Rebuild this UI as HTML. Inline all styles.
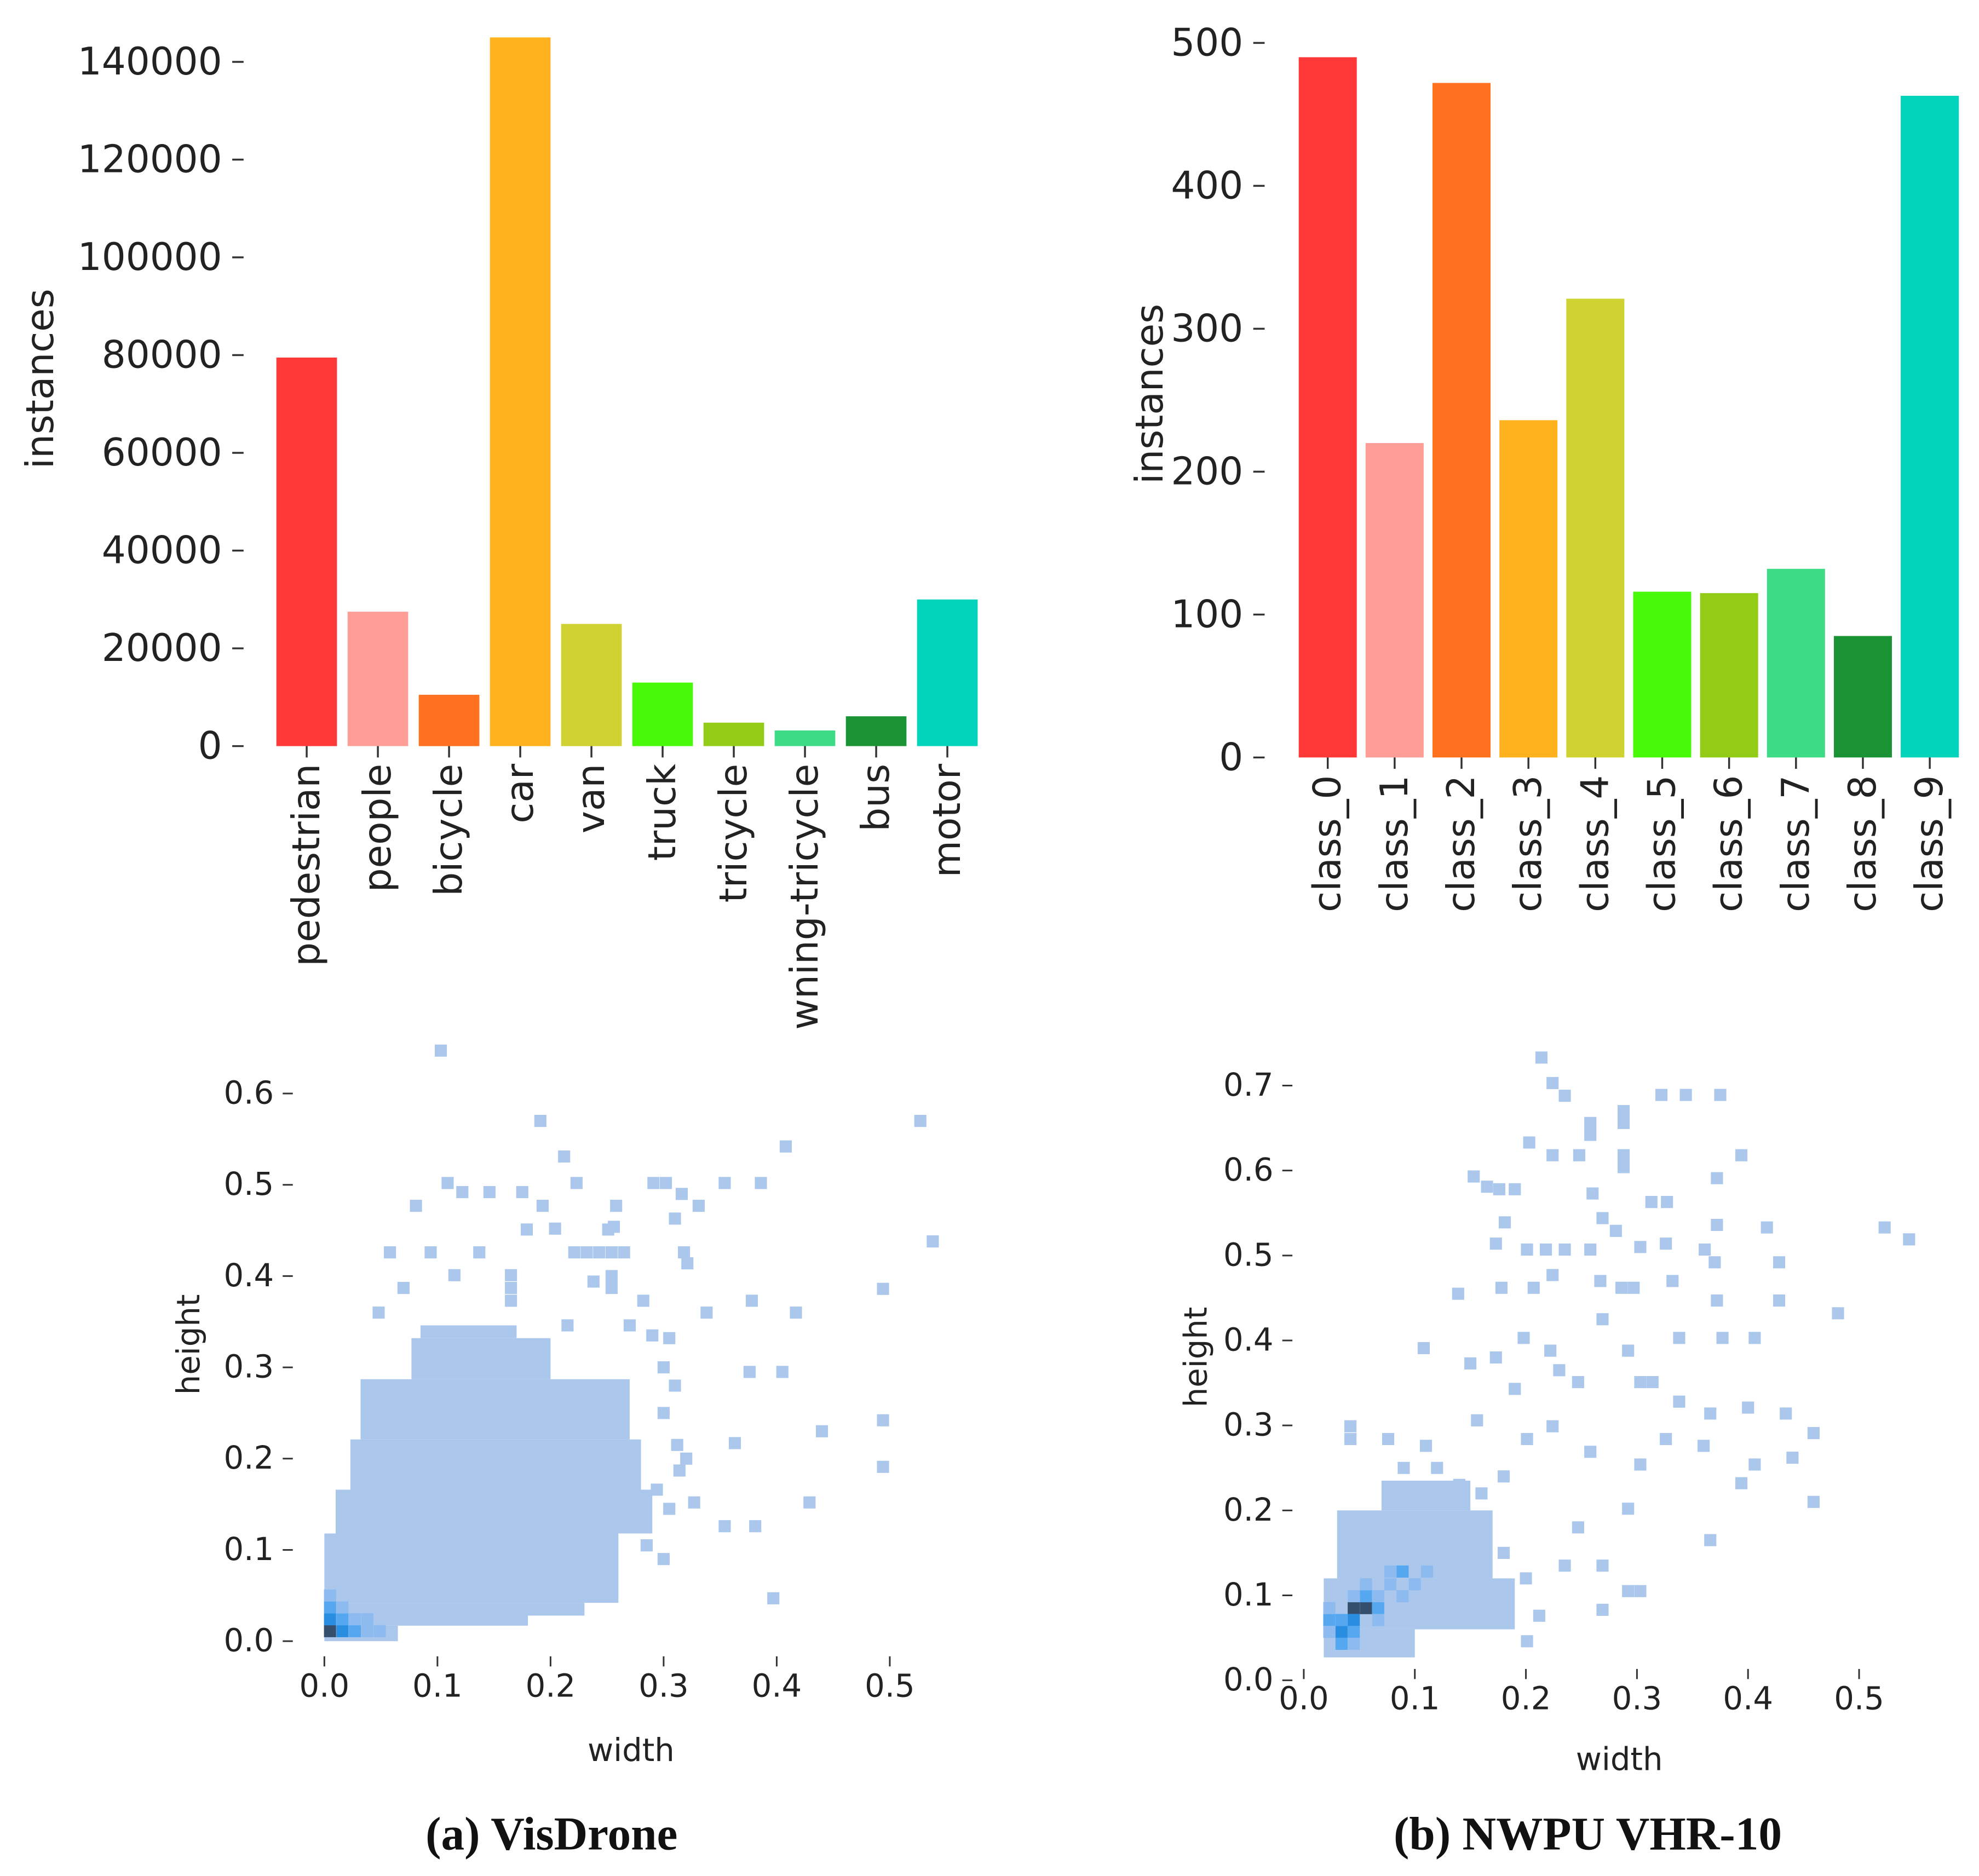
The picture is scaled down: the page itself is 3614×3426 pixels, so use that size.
<!DOCTYPE html>
<html><head><meta charset="utf-8"><style>
html,body{margin:0;padding:0;background:#fff;}
svg{display:block;}
text{font-family:"DejaVu Sans","Liberation Sans",sans-serif;fill:#222;}
</style></head><body>
<svg id="fig" xmlns="http://www.w3.org/2000/svg" width="3614" height="3426" viewBox="0 0 1568 1486" preserveAspectRatio="none">
<g id="g1"></g>
<g id="g2"></g>
<g id="g3"></g>
<g id="g4"></g>
<text x="437" y="1465" text-anchor="middle" style="font-family:'Liberation Serif',serif;font-weight:bold;font-size:37px;fill:#111">(a) VisDrone</text>
<text x="1258" y="1465" text-anchor="middle" style="font-family:'Liberation Serif',serif;font-weight:bold;font-size:37px;fill:#111">(b) NWPU VHR-10</text>
</svg>
<script>
// ---- Data ----
const visCats = ["pedestrian","people","bicycle","car","van","truck","tricycle","awning-tricycle","bus","motor"];
const visVals = [79500,27500,10500,145000,25000,13000,4800,3200,6100,30000];
const visTicks = [0,20000,40000,60000,80000,100000,120000,140000];
const nwpuCats = ["class_0","class_1","class_2","class_3","class_4","class_5","class_6","class_7","class_8","class_9"];
const nwpuVals = [490,220,472,236,321,116,115,132,85,463];
const nwpuTicks = [0,100,200,300,400,500];
const barColors = ["#ff3838","#ff9d97","#ff701f","#ffb21d","#cfd231","#48f90a","#92cc17","#3ddb86","#1a9334","#00d4bb"];

const visXTicks = [0,0.1,0.2,0.3,0.4,0.5];
const visYTicks = [0,0.1,0.2,0.3,0.4,0.5,0.6];
// blob rows: [h0,h1,w0,w1]
const visBlob = [[0,0.017,0,0.065],[0.017,0.028,0,0.18],[0.028,0.042,0,0.23],[0.042,0.118,0,0.26],[0.118,0.166,0.01,0.29],[0.166,0.221,0.023,0.28],[0.221,0.287,0.032,0.27],[0.287,0.332,0.077,0.20],[0.332,0.346,0.085,0.17]];
const visDense = [[0.005,0.011,4],[0.005,0.024,3],[0.016,0.011,3],[0.016,0.024,2],[0.027,0.011,2],[0.005,0.037,2],[0.027,0.024,1],[0.038,0.011,1],[0.016,0.037,1],[0.038,0.024,1],[0.005,0.050,1],[0.049,0.011,1]];
const visScatter = [[.103,.647],[.191,.570],[.527,.570],[.408,.542],[.212,.531],[.109,.502],[.122,.492],[.146,.492],[.175,.492],[.223,.502],[.291,.502],[.302,.502],[.354,.502],[.386,.502],[.081,.477],[.193,.477],[.258,.477],[.316,.490],[.331,.477],[.310,.463],[.256,.454],[.179,.451],[.204,.452],[.251,.451],[.538,.438],[.058,.426],[.094,.426],[.137,.426],[.221,.426],[.232,.426],[.243,.426],[.254,.426],[.265,.426],[.318,.426],[.321,.414],[.494,.386],[.378,.373],[.417,.360],[.338,.360],[.405,.295],[.376,.295],[.363,.217],[.440,.230],[.494,.242],[.494,.191],[.429,.152],[.381,.126],[.354,.126],[.397,.047],[.327,.152],[.305,.145],[.314,.187],[.294,.166],[.048,.360],[.070,.387],[.115,.401],[.165,.401],[.238,.394],[.282,.373],[.305,.332],[.215,.346],[.165,.387],[.165,.373],[.254,.400],[.254,.387],[.270,.346],[.290,.335],[.300,.300],[.310,.280],[.300,.250],[.312,.215],[.320,.200],[.285,.105],[.300,.090]];

const nwXTicks = [0,0.1,0.2,0.3,0.4,0.5];
const nwYTicks = [0,0.1,0.2,0.3,0.4,0.5,0.6,0.7];
const nwBlob = [[0.027,0.06,0.018,0.10],[0.06,0.12,0.018,0.19],[0.12,0.20,0.03,0.17],[0.20,0.235,0.07,0.15]];
const nwDense = [[0.045,0.085,4],[0.056,0.085,4],[0.045,0.071,3],[0.034,0.057,3],[0.045,0.057,2],[0.034,0.071,2],[0.056,0.099,2],[0.067,0.085,2],[0.023,0.071,2],[0.034,0.043,2],[0.089,0.128,2],[0.078,0.113,1],[0.067,0.071,1],[0.056,0.113,1],[0.023,0.057,1],[0.023,0.085,1],[0.045,0.043,1],[0.067,0.099,1],[0.100,0.113,1],[0.078,0.128,1],[0.111,0.128,1],[0.089,0.099,1],[0.045,0.099,1]];
const nwScatter = [[.214,.733],[.224,.703],[.235,.688],[.322,.689],[.344,.689],[.375,.689],[.258,.656],[.258,.642],[.288,.670],[.288,.656],[.203,.633],[.224,.618],[.248,.618],[.288,.618],[.288,.604],[.153,.593],[.165,.581],[.176,.578],[.190,.578],[.372,.591],[.394,.618],[.260,.573],[.313,.563],[.327,.563],[.181,.539],[.269,.544],[.281,.529],[.372,.536],[.417,.533],[.173,.514],[.201,.507],[.218,.507],[.235,.507],[.258,.507],[.303,.510],[.326,.514],[.361,.507],[.370,.492],[.428,.492],[.523,.533],[.545,.519],[.139,.455],[.178,.462],[.207,.462],[.224,.477],[.267,.470],[.286,.462],[.297,.462],[.332,.470],[.372,.447],[.428,.447],[.481,.432],[.198,.403],[.222,.388],[.269,.425],[.292,.388],[.338,.403],[.377,.403],[.406,.403],[.108,.391],[.150,.373],[.173,.380],[.190,.343],[.230,.365],[.247,.351],[.303,.351],[.314,.351],[.338,.328],[.366,.314],[.400,.321],[.434,.314],[.459,.291],[.042,.299],[.042,.284],[.076,.284],[.110,.276],[.156,.306],[.201,.284],[.224,.299],[.258,.269],[.303,.254],[.326,.284],[.360,.276],[.406,.254],[.440,.262],[.459,.210],[.292,.202],[.394,.232],[.366,.165],[.247,.180],[.235,.135],[.269,.135],[.292,.105],[.212,.076],[.269,.083],[.201,.046],[.303,.105],[.180,.150],[.200,.120],[.160,.220],[.180,.240],[.120,.250],[.090,.250],[.140,.230]];

const NS="http://www.w3.org/2000/svg";
function mk(parent,tag,attrs,txt){const e=document.createElementNS(NS,tag);for(const k in attrs)e.setAttribute(k,attrs[k]);if(txt!==undefined)e.textContent=txt;parent.appendChild(e);return e;}

// ---- Bar charts ----
function barChart(gid,cats,vals,ticks,cfg){
  const g=document.getElementById(gid);
  const y=v=>cfg.y0-(v-ticks[0])/(cfg.vmax)*(cfg.y0-cfg.ytop);
  const x=i=>cfg.x0+i*cfg.step;
  ticks.forEach(t=>{
    const tl=mk(g,'line',{x1:cfg.tickX,x2:cfg.tickX+9,y1:y(t),y2:y(t),stroke:'#333','stroke-width':1.5});
    
    
    const tx=mk(g,'text',{x:cfg.tickX-8,y:y(t)+10,'text-anchor':'end','font-size':cfg.fs},String(t));
    
    
  });
  cats.forEach((c,i)=>{
    const r=mk(g,'rect',{x:x(i)-cfg.bw/2,y:y(vals[i]),width:cfg.bw,height:cfg.y0-y(vals[i]),fill:barColors[i]});
    
    
    const tk=mk(g,'line',{x1:x(i),x2:x(i),y1:cfg.y0,y2:cfg.y0+9,stroke:'#333','stroke-width':1.5});
    
    
    const t=mk(g,'text',{x:0,y:0,'text-anchor':'end','font-size':cfg.fs,transform:`translate(${x(i)+10},${cfg.y0+14}) rotate(-90)`},c);
    
    
  });
  const yl=mk(g,'text',{x:0,y:0,'text-anchor':'middle','font-size':cfg.fs,transform:`translate(${cfg.ylx},${cfg.yly}) rotate(-90)`},'instances');
  
  
}
barChart('g1',visCats,visVals,visTicks,{y0:591,ytop:49,vmax:140000,x0:243,step:56.4,bw:48,tickX:184,fs:30,ylx:42,yly:300});
barChart('g2',nwpuCats,nwpuVals,nwpuTicks,{y0:600,ytop:34,vmax:500,x0:1052,step:53,bw:46,tickX:993,fs:30,ylx:921,yly:312});
// label cut at figure edge
{const g=document.getElementById('g1');const c=mk(g,'rect',{x:560,y:815,width:200,height:30,fill:'#fff'});}

// ---- Heatmaps ----
const levelColors=['#abc8ec','#8dbbf0','#55a8f0','#2a8ee0','#35506e'];
function heatmap(gid,xt,yt,blob,dense,scatter,cfg){
  const g=document.getElementById(gid);
  const X=v=>cfg.x0+v*cfg.sx, Y=v=>cfg.y0-v*cfg.sy;
  blob.forEach(r=>{
    const e=mk(g,'rect',{x:X(r[2]),y:Y(r[1]),width:(r[3]-r[2])*cfg.sx,height:(r[1]-r[0])*cfg.sy,fill:levelColors[0]});
    
    
  });
  scatter.forEach(p=>{
    const e=mk(g,'rect',{x:X(p[0])-cfg.cw/2,y:Y(p[1])-cfg.ch/2,width:cfg.cw,height:cfg.ch,fill:levelColors[0]});
    
    
  });
  dense.forEach(p=>{
    const e=mk(g,'rect',{x:X(p[0])-cfg.cw/2,y:Y(p[1])-cfg.ch/2,width:cfg.cw,height:cfg.ch,fill:levelColors[p[2]]});
    
    
  });
  xt.forEach(t=>{
    const l=mk(g,'line',{x1:X(t),x2:X(t),y1:cfg.xtickY,y2:cfg.xtickY+8,stroke:'#333','stroke-width':1.3});
    
    
    const tx=mk(g,'text',{x:X(t),y:cfg.xtickY+32,'text-anchor':'middle','font-size':25},t.toFixed(1));
    
    
  });
  yt.forEach(t=>{
    const l=mk(g,'line',{x1:cfg.ytickX,x2:cfg.ytickX+8,y1:Y(t),y2:Y(t),stroke:'#333','stroke-width':1.3});
    
    
    const tx=mk(g,'text',{x:cfg.ytickX-7,y:Y(t)+8,'text-anchor':'end','font-size':25},t.toFixed(1));
    
    
  });
  const xl=mk(g,'text',{x:cfg.xlx,y:cfg.xly,'text-anchor':'middle','font-size':25},'width');
  
  
  const yl=mk(g,'text',{x:0,y:0,'text-anchor':'middle','font-size':25,transform:`translate(${cfg.ylx},${cfg.yly}) rotate(-90)`},'height');
  
  
}
heatmap('g3',visXTicks,visYTicks,visBlob,visDense,visScatter,{x0:257,y0:1300,sx:896,sy:723,cw:9.6,ch:9.6,xtickY:1312,ytickX:224,xlx:500,xly:1395,ylx:158,yly:1065});
heatmap('g4',nwXTicks,nwYTicks,nwBlob,nwDense,nwScatter,{x0:1033,y0:1331,sx:880,sy:673,cw:9.6,ch:9.6,xtickY:1322,ytickX:1016,xlx:1283,xly:1402,ylx:956,yly:1075});
</script>
</body></html>
